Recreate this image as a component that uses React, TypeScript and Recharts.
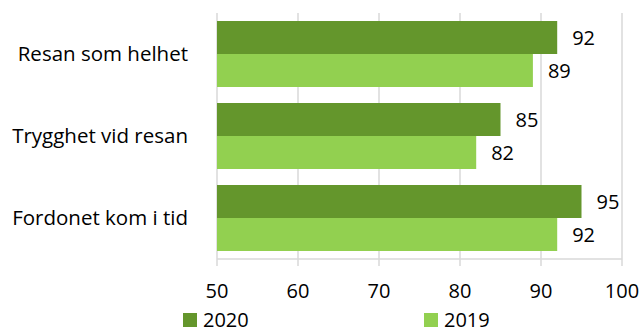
import React from 'react';
import { BarChart, Bar, XAxis, YAxis, CartesianGrid, LabelList } from 'recharts';

const categories = ['Resan som helhet', 'Trygghet vid resan', 'Fordonet kom i tid'];
const values2020 = [92, 85, 95];
const values2019 = [89, 82, 92];
const xTicks = [50, 60, 70, 80, 90, 100];

const DARK = '#64962C';
const LIGHT = '#92D050';
const FONT = '"Open Sans", sans-serif';

const data = categories.map((name, i) => ({
  name,
  y2020: values2020[i],
  y2019: values2019[i],
}));

const App: React.FC = () => {
  return (
    <div style={{ position: 'absolute', left: 0, top: 0, width: 642, height: 335, fontFamily: FONT, overflow: 'hidden' }}>
      <BarChart
        width={642}
        height={335}
        data={data}
        layout="vertical"
        margin={{ top: 13, right: 20, left: 0, bottom: 0 }}
        barCategoryGap={8}
        barGap={0}
      >
        <CartesianGrid horizontal={false} stroke="#d9d9d9" strokeWidth={1.5} />
        <XAxis
          type="number"
          domain={[50, 100]}
          ticks={xTicks}
          allowDataOverflow
          height={76}
          stroke="#d9d9d9"
          strokeWidth={1.5}
          tickSize={7}
          tickMargin={18}
          tick={{ fill: '#000', fontSize: 20, fontFamily: FONT }}
        />
        <YAxis
          type="category"
          dataKey="name"
          width={217}
          axisLine={false}
          tickLine={false}
          tickMargin={23}
          tick={{ fill: '#000', fontSize: 20.5, fontFamily: FONT }}
        />
        <Bar dataKey="y2020" fill={DARK} isAnimationActive={false}>
          <LabelList dataKey="y2020" position="right" offset={15} fill="#000" fontSize={20} fontFamily={FONT} />
        </Bar>
        <Bar dataKey="y2019" fill={LIGHT} isAnimationActive={false}>
          <LabelList dataKey="y2019" position="right" offset={15} fill="#000" fontSize={20} fontFamily={FONT} />
        </Bar>
      </BarChart>
      {/* legend sits at the very bottom edge, like the source */}
      <div style={{ position: 'absolute', left: 183, top: 306, display: 'flex', alignItems: 'center', fontSize: 20, color: '#000', lineHeight: '28px' }}>
        <span style={{ display: 'inline-block', width: 14, height: 14, background: DARK, marginRight: 6 }} />
        <span style={{ width: 221 }}>2020</span>
        <span style={{ display: 'inline-block', width: 14, height: 14, background: LIGHT, marginRight: 6 }} />
        <span>2019</span>
      </div>
    </div>
  );
};

export default App;
